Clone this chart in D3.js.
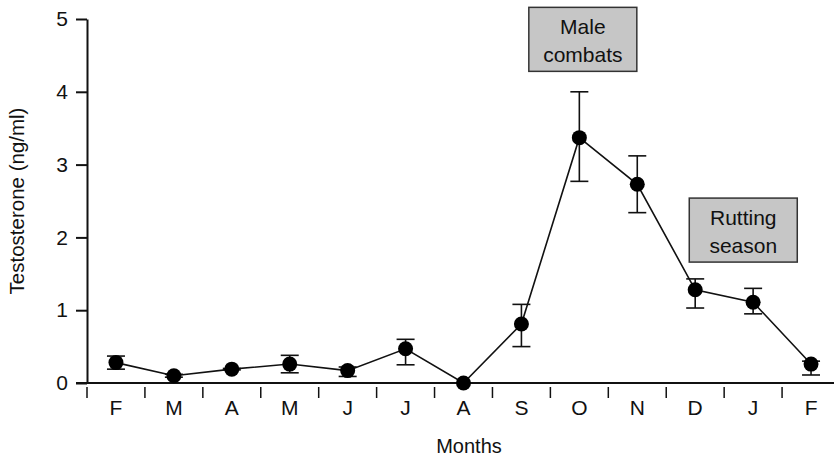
<!DOCTYPE html>
<html>
<head>
<meta charset="utf-8">
<script src="https://cdn.jsdelivr.net/npm/d3@7"></script>
<style>
  body { margin: 0; background: #fff; }
</style>
</head>
<body>
<div class="visHolder"></div>
<script>
const w = 834, h = 460;

// months Feb -> Feb, mean testosterone with error bar ends
const months = ['F', 'M', 'A', 'M', 'J', 'J', 'A', 'S', 'O', 'N', 'D', 'J', 'F'];
const means  = [0.28, 0.10, 0.19, 0.26, 0.17, 0.47, 0.00, 0.81, 3.37, 2.73, 1.28, 1.11, 0.26];
const upper  = [0.37, 0.12, 0.20, 0.38, 0.22, 0.60, 0.00, 1.08, 4.00, 3.12, 1.43, 1.30, 0.30];
const lower  = [0.19, 0.08, 0.18, 0.14, 0.09, 0.25, 0.00, 0.50, 2.77, 2.34, 1.03, 0.95, 0.11];
const yTicks = [0, 1, 2, 3, 4, 5];

// annotation labels, anchored at a month position and a value (top of box)
const noteText = [['Male', 'combats'], ['Rutting', 'season']];
const noteAt   = [8.56, 11.33];
const noteVal  = [5.16, 2.54];

const svg = d3.select('.visHolder')
  .append('svg')
  .attr('width', w)
  .attr('height', h)
  .attr('font-family', '"Liberation Sans", Arial, sans-serif');

const xScale = d3.scaleBand()
  .domain(d3.range(months.length))
  .range([87, 840]);
// continuous helper for placing labels by month position
const xPos = d3.scaleLinear()
  .domain([0, months.length])
  .range(xScale.range());
const yScale = d3.scaleLinear()
  .domain([0, 5])
  .range([383, 19]);

// y axis
const yAxis = d3.axisLeft(yScale)
  .tickValues(yTicks)
  .tickFormat(d3.format('d'))
  .tickSize(11)
  .tickSizeOuter(0)
  .tickPadding(8);
const gy = svg.append('g')
  .attr('transform', `translate(${xScale(0)}, 0)`)
  .call(yAxis)
  .attr('font-family', null)
  .attr('font-size', 21);
gy.selectAll('path, line').attr('stroke', '#111').attr('stroke-width', 2);
gy.selectAll('text').attr('fill', '#111');

// x axis: labels centred in bands, ticks on band edges
const xAxis = d3.axisBottom(xScale).tickFormat(i => months[i]).tickSize(0).tickPadding(17);
const gx = svg.append('g')
  .attr('transform', `translate(0, ${yScale(0)})`)
  .call(xAxis)
  .attr('font-family', null)
  .attr('font-size', 21);
gx.select('.domain').remove();
gx.selectAll('text').attr('fill', '#111');

svg.append('line')
  .attr('x1', xScale(0) - 11).attr('x2', w)
  .attr('y1', yScale(0)).attr('y2', yScale(0))
  .attr('stroke', '#111').attr('stroke-width', 2);

svg.append('g').selectAll('line')
  .data(d3.range(months.length))
  .enter()
  .append('line')
  .attr('x1', d => xScale(d)).attr('x2', d => xScale(d))
  .attr('y1', yScale(0) + 4).attr('y2', yScale(0) + 15)
  .attr('stroke', '#111').attr('stroke-width', 1.5);

svg.append('text')
  .attr('transform', `translate(24, ${yScale(2.5)}) rotate(-90)`)
  .attr('text-anchor', 'middle')
  .attr('font-size', 20.5)
  .attr('fill', '#111')
  .text('Testosterone (ng/ml)');

svg.append('text')
  .attr('x', 469).attr('y', 453)
  .attr('text-anchor', 'middle')
  .attr('font-size', 20)
  .attr('fill', '#111')
  .text('Months');

const cx = i => xScale(i) + xScale.bandwidth() / 2;

// error bars
const err = svg.append('g').attr('stroke', '#111').attr('stroke-width', 1.6);
means.forEach((m, i) => {
  err.append('line')
    .attr('x1', cx(i)).attr('x2', cx(i))
    .attr('y1', yScale(upper[i])).attr('y2', yScale(lower[i]));
  [upper[i], lower[i]].forEach(v => {
    err.append('line')
      .attr('x1', cx(i) - 9).attr('x2', cx(i) + 9)
      .attr('y1', yScale(v)).attr('y2', yScale(v));
  });
});

const line = d3.line()
  .x((d, i) => cx(i))
  .y(d => yScale(d));

svg.append('path')
  .datum(means)
  .attr('d', line)
  .attr('fill', 'none')
  .attr('stroke', '#111')
  .attr('stroke-width', 1.6);

svg.selectAll('circle')
  .data(means)
  .enter()
  .append('circle')
  .attr('cx', (d, i) => cx(i))
  .attr('cy', d => yScale(d))
  .attr('r', 7.5)
  .attr('fill', '#000');

// annotation boxes
const note = svg.selectAll('.note')
  .data(noteText)
  .enter()
  .append('g')
  .attr('class', 'note')
  .attr('transform', (d, i) => `translate(${xPos(noteAt[i])}, ${yScale(noteVal[i])})`);

note.append('rect')
  .attr('x', -54).attr('y', 0)
  .attr('width', 108).attr('height', 64)
  .attr('fill', '#c6c6c6')
  .attr('stroke', '#333')
  .attr('stroke-width', 1.5);

note.selectAll('text')
  .data(d => d)
  .enter()
  .append('text')
  .attr('x', 0)
  .attr('y', (d, i) => 27 + i * 28)
  .attr('text-anchor', 'middle')
  .attr('font-size', 21)
  .attr('fill', '#111')
  .text(d => d);
</script>
</body>
</html>
